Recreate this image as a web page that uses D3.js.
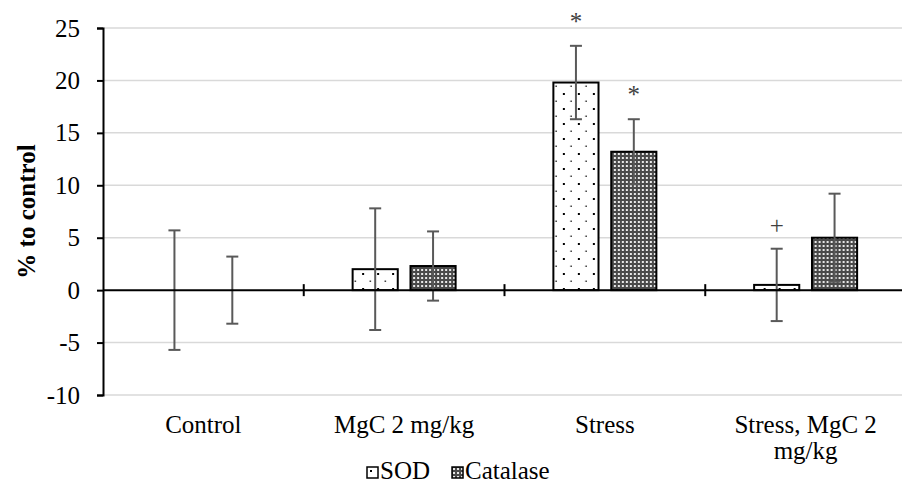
<!DOCTYPE html>
<html>
<head>
<meta charset="utf-8">
<script src="https://cdn.jsdelivr.net/npm/d3@7"></script>
<style>
  body { margin: 0; background: #fff; }
  text { font-family: "Liberation Serif", "Times New Roman", serif; }
</style>
</head>
<body>
<div id="container"></div>
<script>
// data
var categories = ["Control", "MgC 2 mg/kg", "Stress", "Stress, MgC 2 mg/kg"];
var series = ["SOD", "Catalase"];
var sodValues = [0, 2.0, 19.8, 0.5];
var sodErrors = [5.7, 5.8, 3.5, 3.45];
var catalaseValues = [0, 2.3, 13.2, 5.0];
var catalaseErrors = [3.2, 3.3, 3.1, 4.2];
var sodMarks = ["", "", "*", "+"];
var catalaseMarks = ["", "", "*", ""];
var yTicks = [-10, -5, 0, 5, 10, 15, 20, 25];

var width = 902, height = 486;
var plotLeft = 103, plotRight = 906, plotTop = 28, plotBottom = 395;

var svg = d3.select("#container").append("svg")
  .attr("width", width).attr("height", height);

var defs = svg.append("defs");
// sparse dots for SOD
var p1 = defs.append("pattern").attr("id", "dots").attr("patternUnits", "userSpaceOnUse")
  .attr("width", 15).attr("height", 15);
p1.append("rect").attr("width", 15).attr("height", 15).attr("fill", "#fff");
p1.append("rect").attr("x", 3).attr("y", 3).attr("width", 2).attr("height", 2).attr("fill", "#000");
p1.append("rect").attr("x", 10.5).attr("y", 10.5).attr("width", 1.5).attr("height", 1.5).attr("fill", "#333");
// dense dark grid for catalase
var p2 = defs.append("pattern").attr("id", "grid").attr("patternUnits", "userSpaceOnUse")
  .attr("width", 4).attr("height", 4);
p2.append("rect").attr("width", 4).attr("height", 4).attr("fill", "#4a4a4a");
p2.append("rect").attr("x", 1).attr("y", 1).attr("width", 2).attr("height", 2).attr("fill", "#e8e8e8");

var fills = { SOD: "url(#dots)", Catalase: "url(#grid)" };

var y = d3.scaleLinear().domain([-10, 25]).range([plotBottom, plotTop]);
var x = d3.scaleBand().domain(categories).range([plotLeft, plotRight]);
var xs = d3.scaleBand().domain(series).range([-51.5, 51.5]).paddingInner(0.22);

// gridlines
svg.append("g").selectAll("line")
  .data(yTicks.filter(function (d) { return d !== 0; }))
  .enter().append("line")
  .attr("x1", plotLeft).attr("x2", plotRight)
  .attr("y1", function (d) { return y(d); }).attr("y2", function (d) { return y(d); })
  .attr("stroke", "#d9d9d9").attr("stroke-width", 1.5);

// y axis (plain hyphen for negatives, like the original)
var yAxis = svg.append("g")
  .attr("transform", "translate(" + plotLeft + ",0)")
  .call(d3.axisLeft(y).tickValues(yTicks).tickSize(6).tickPadding(17)
    .tickFormat(function (d) { return String(d); }));
yAxis.select(".domain").attr("stroke", "#000").attr("stroke-width", 2);
yAxis.selectAll(".tick line").attr("stroke", "#000").attr("stroke-width", 2);
yAxis.selectAll(".tick text")
  .style("font-family", '"Liberation Serif", serif')
  .style("font-size", "25px").attr("fill", "#000");

svg.append("text")
  .attr("transform", "translate(35," + ((plotTop + plotBottom) / 2) + ") rotate(-90)")
  .attr("text-anchor", "middle")
  .style("font-size", "25px").style("font-weight", "bold")
  .text("% to control");

var rows = categories.map(function (c, i) {
  return [
    { cat: c, s: "SOD", v: sodValues[i], e: sodErrors[i], m: sodMarks[i] },
    { cat: c, s: "Catalase", v: catalaseValues[i], e: catalaseErrors[i], m: catalaseMarks[i] }
  ];
});

var groups = svg.append("g").selectAll("g")
  .data(rows).enter().append("g")
  .attr("transform", function (d) { return "translate(" + (x(d[0].cat) + x.bandwidth() / 2) + ",0)"; });

groups.selectAll("rect")
  .data(function (d) { return d.filter(function (r) { return r.v !== 0; }); })
  .enter().append("rect")
  .attr("x", function (d) { return xs(d.s); })
  .attr("width", xs.bandwidth())
  .attr("y", function (d) { return y(d.v); })
  .attr("height", function (d) { return y(0) - y(d.v); })
  .attr("fill", function (d) { return fills[d.s]; })
  .attr("stroke", "#000").attr("stroke-width", 2);

// zero line and category ticks
svg.append("line")
  .attr("x1", plotLeft).attr("x2", plotRight)
  .attr("y1", y(0)).attr("y2", y(0))
  .attr("stroke", "#000").attr("stroke-width", 2);
svg.append("g").selectAll("line")
  .data(categories.slice(1))
  .enter().append("line")
  .attr("x1", function (d) { return x(d); }).attr("x2", function (d) { return x(d); })
  .attr("y1", y(0) - 6).attr("y2", y(0) + 6)
  .attr("stroke", "#000").attr("stroke-width", 2);

// error bars
var err = groups.selectAll("g.err")
  .data(function (d) { return d; })
  .enter().append("g").attr("class", "err")
  .attr("transform", function (d) { return "translate(" + (xs(d.s) + xs.bandwidth() / 2) + ",0)"; })
  .attr("stroke", "#595959").attr("stroke-width", 2);
err.append("line")
  .attr("y1", function (d) { return y(d.v + d.e); })
  .attr("y2", function (d) { return y(d.v - d.e); });
err.append("line").attr("x1", -6).attr("x2", 6)
  .attr("y1", function (d) { return y(d.v + d.e); })
  .attr("y2", function (d) { return y(d.v + d.e); });
err.append("line").attr("x1", -6).attr("x2", 6)
  .attr("y1", function (d) { return y(d.v - d.e); })
  .attr("y2", function (d) { return y(d.v - d.e); });

// significance marks
groups.selectAll("text.mark")
  .data(function (d) { return d.filter(function (r) { return r.m; }); })
  .enter().append("text").attr("class", "mark")
  .attr("x", function (d) { return xs(d.s) + xs.bandwidth() / 2; })
  .attr("y", function (d) { return y(d.v + d.e) - (d.m === "*" ? 16 : 15); })
  .attr("text-anchor", "middle")
  .style("font-size", "25px").attr("fill", "#404040")
  .text(function (d) { return d.m; });

// category labels with wrapping
var labels = svg.append("g").selectAll("text")
  .data(categories).enter().append("text")
  .attr("x", function (d) { return x(d) + x.bandwidth() / 2; })
  .attr("y", 433)
  .attr("text-anchor", "middle")
  .style("font-size", "25px")
  .text(function (d) { return d; });

labels.each(function (d) {
  var t = d3.select(this);
  if (this.getComputedTextLength() < 190) return;
  var words = d.split(" "), line = [], lines = [];
  t.text(null);
  var probe = t.append("tspan");
  words.forEach(function (w) {
    line.push(w);
    probe.text(line.join(" "));
    if (probe.node().getComputedTextLength() > 180 && line.length > 1) {
      line.pop();
      lines.push(line.join(" "));
      line = [w];
    }
  });
  lines.push(line.join(" "));
  probe.remove();
  var cx = t.attr("x");
  lines.forEach(function (l, i) {
    t.append("tspan").attr("x", cx).attr("dy", i === 0 ? 0 : 26).text(l);
  });
});

// legend
var legend = svg.append("g").attr("transform", "translate(367,467)");
var lx = 0;
series.forEach(function (s) {
  var item = legend.append("g").attr("transform", "translate(" + lx + ",0)");
  item.append("rect").attr("width", 11).attr("height", 11)
    .attr("fill", fills[s]).attr("stroke", "#000").attr("stroke-width", 1.5);
  var txt = item.append("text").attr("x", 13).attr("y", 12)
    .style("font-size", "25px").text(s);
  lx += 13 + txt.node().getComputedTextLength() + 22;
});
</script>
</body>
</html>
